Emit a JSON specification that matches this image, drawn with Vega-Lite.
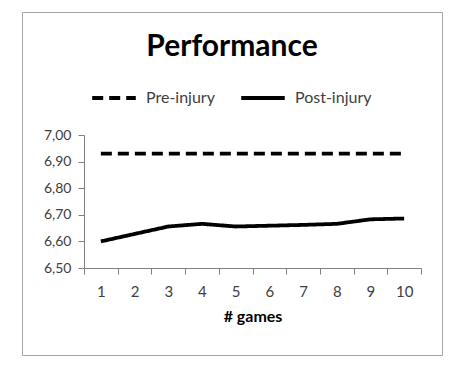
{
  "$schema": "https://vega.github.io/schema/vega-lite/v6.json",
  "autosize": "none",
  "padding": {"left": 22, "top": 12, "right": 10, "bottom": 11},
  "width": 420,
  "height": 343,
  "background": "white",
  "title": {"text": "Performance", "orient": "top", "anchor": "middle", "offset": -50, "font": "Lato", "fontSize": 30, "fontWeight": "bold", "color": "#000"},
  "config": {
    "view": {"stroke": "#a6a6a6", "strokeWidth": 1},
    "font": "Lato"
  },
  "data": {"values": [
    {"game": 1, "series": "Pre-injury", "value": 6.93},
    {"game": 2, "series": "Pre-injury", "value": 6.93},
    {"game": 3, "series": "Pre-injury", "value": 6.93},
    {"game": 4, "series": "Pre-injury", "value": 6.93},
    {"game": 5, "series": "Pre-injury", "value": 6.93},
    {"game": 6, "series": "Pre-injury", "value": 6.93},
    {"game": 7, "series": "Pre-injury", "value": 6.93},
    {"game": 8, "series": "Pre-injury", "value": 6.93},
    {"game": 9, "series": "Pre-injury", "value": 6.93},
    {"game": 10, "series": "Pre-injury", "value": 6.93},
    {"game": 1, "series": "Post-injury", "value": 6.600},
    {"game": 2, "series": "Post-injury", "value": 6.628},
    {"game": 3, "series": "Post-injury", "value": 6.656},
    {"game": 4, "series": "Post-injury", "value": 6.666},
    {"game": 5, "series": "Post-injury", "value": 6.656},
    {"game": 6, "series": "Post-injury", "value": 6.659},
    {"game": 7, "series": "Post-injury", "value": 6.662},
    {"game": 8, "series": "Post-injury", "value": 6.666},
    {"game": 9, "series": "Post-injury", "value": 6.683},
    {"game": 10, "series": "Post-injury", "value": 6.686}
  ]},
  "mark": {"type": "line", "color": "black", "strokeWidth": 3.8, "strokeCap": "butt"},
  "encoding": {
    "x": {
      "field": "game", "type": "ordinal", "title": "# games",
      "scale": {"type": "band", "range": [62, 399], "paddingInner": 0, "paddingOuter": 0},
      "axis": {
        "offset": -87, "labelAngle": 0, "tickBand": "extent", "tickSize": 6,
        "domainColor": "#808080", "tickColor": "#808080", "labelColor": "#404040",
        "labelFontSize": 15, "labelPadding": 10, "titleFontSize": 16, "titleFontWeight": "bold",
        "titleColor": "#000", "titlePadding": 9, "labelFont": "Lato", "titleFont": "Lato"
      }
    },
    "y": {
      "field": "value", "type": "quantitative", "title": null,
      "scale": {"domain": [6.5, 7.0], "range": [256, 123], "zero": false},
      "axis": {
        "offset": -62, "values": [6.5, 6.6, 6.7, 6.8, 6.9, 7.0], "grid": false, "tickSize": 6,
        "labelExpr": "replace(format(datum.value, '.2f'), '.', ',')",
        "domainColor": "#808080", "tickColor": "#808080", "labelColor": "#404040",
        "labelFontSize": 14, "labelPadding": 7, "labelFont": "Lato"
      }
    },
    "strokeDash": {
      "field": "series", "type": "nominal", "title": null,
      "scale": {"domain": ["Pre-injury", "Post-injury"], "range": [[11, 6], [1, 0]]},
      "legend": {
        "orient": "none", "direction": "horizontal", "legendX": 68, "legendY": 62,
        "symbolType": "stroke", "symbolSize": 1900, "symbolStrokeWidth": 3.8, "symbolStrokeColor": "black",
        "labelFontSize": 16, "labelColor": "#404040", "columnPadding": 18, "labelOffset": 8, "labelFont": "Lato"
      }
    }
  }
}
